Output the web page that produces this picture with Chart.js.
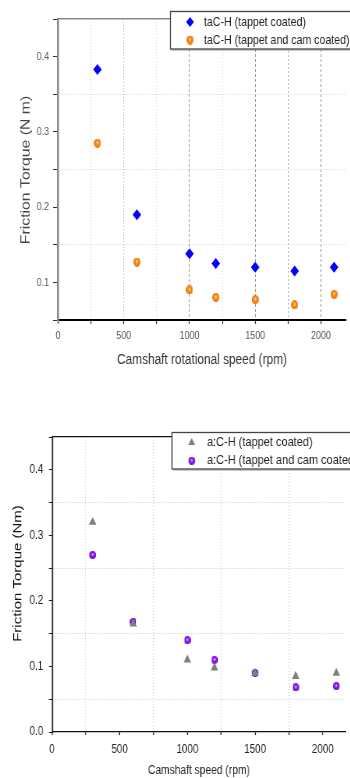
<!DOCTYPE html>
<html><head><meta charset="utf-8">
<script src="https://cdn.jsdelivr.net/npm/chart.js@4.4.1/dist/chart.umd.min.js"></script>
<style>
html,body{margin:0;padding:0;background:#fff;width:350px;height:778px;overflow:hidden;position:relative}
.wrap{position:absolute;left:0;transform-origin:0 0}
#w1{top:0;transform:scaleX(0.78)}
#w2{top:378px;transform:scaleX(0.82)}
canvas{display:block}
</style></head><body>
<div class="wrap" id="w1"><canvas id="c1" width="449" height="378"></canvas></div>
<div class="wrap" id="w2"><canvas id="c2" width="427" height="400"></canvas></div>
<script>
// ---------- data ----------
const speeds = [300, 600, 1000, 1200, 1500, 1800, 2100];
const taCH_tappet    = [0.383, 0.190, 0.138, 0.125, 0.120, 0.115, 0.120];
const taCH_tappetCam = [0.285, 0.127, 0.090, 0.080, 0.077, 0.070, 0.084];
const aCH_tappet     = [0.320, 0.165, 0.110, 0.098, 0.090, 0.085, 0.090];
const aCH_tappetCam  = [0.270, 0.168, 0.140, 0.110, 0.090, 0.068, 0.070];
const seriesLabels1 = ['taC-H (tappet coated)', 'taC-H (tappet and cam coated)'];
const seriesLabels2 = ['a:C-H (tappet coated)', 'a:C-H (tappet and cam coated)'];
const xTicks      = [0, 250, 500, 750, 1000, 1250, 1500, 1750, 2000];
const xTickLabels = ['0', '', '500', '', '1000', '', '1500', '', '2000'];
const yTicks1      = [0.05, 0.10, 0.15, 0.20, 0.25, 0.30, 0.35, 0.40, 0.45];
const yTickLabels1 = ['', '0.1', '', '0.2', '', '0.3', '', '0.4', ''];
const yTicks2      = [0.00, 0.05, 0.10, 0.15, 0.20, 0.25, 0.30, 0.35, 0.40, 0.45];
const yTickLabels2 = ['0.0', '', '0.1', '', '0.2', '', '0.3', '', '0.4', ''];
const xTitle1 = 'Camshaft rotational speed (rpm)';
const yTitle1 = 'Friction Torque (N m)';
const xTitle2 = 'Camshaft speed (rpm)';
const yTitle2 = 'Friction Torque (Nm)';

// ---------- styles ----------
const REG = "'Liberation Sans', Arial, sans-serif";
const T = 'rgba(0,0,0,0)';
const gridColorX1 = [T, '#d2d2d2', '#b4b4b4', '#d2d2d2', '#959595', '#d2d2d2', '#959595', '#aaaaaa', '#959595'];
const gridDashX1  = [[], [1, 2], [1, 2], [1, 2], [3, 2], [1, 2], [3, 2], [2, 2], [3, 2]];
const gridColorY1 = [T, T, '#cfcfcf', T, '#cfcfcf', T, '#cfcfcf', T, T];
const gridColorX2 = [T, '#c8c8c8', T, '#c8c8c8', T, '#c8c8c8', T, '#c8c8c8', T];
const gridColorY2 = [T, '#c8c8c8', T, '#c8c8c8', T, '#c8c8c8', T, '#c8c8c8', T, T];

function sphere(d, light, base, dark) {
  const c = document.createElement('canvas');
  c.width = d; c.height = d;
  const g = c.getContext('2d');
  const gr = g.createRadialGradient(d * 0.5, d * 0.42, 0.3, d * 0.5, d * 0.5, d * 0.55);
  gr.addColorStop(0, light);
  gr.addColorStop(0.35, base);
  gr.addColorStop(1, dark);
  g.fillStyle = gr;
  g.beginPath(); g.arc(d / 2, d / 2, d / 2, 0, Math.PI * 2); g.fill();
  return c;
}
const orangeImg = sphere(9, '#ffe2b8', '#ff8c1a', '#e66d00');
const purpleImg = sphere(8, '#e6ccff', '#8f1df5', '#6a00d0');

// ---------- plugins ----------
const boxLegend = {
  id: 'boxLegend',
  afterDraw(chart, args, o) {
    const ctx = chart.ctx;
    ctx.save();
    ctx.fillStyle = '#fff';
    ctx.fillRect(o.x, o.y, o.w, o.h);
    ctx.strokeStyle = '#9a9a9a'; ctx.lineWidth = 1;
    ctx.beginPath(); ctx.moveTo(o.x + 1, o.y + o.h + 1); ctx.lineTo(o.x + o.w, o.y + o.h + 1); ctx.stroke();
    ctx.strokeStyle = o.border; ctx.lineWidth = o.borderWidth;
    ctx.strokeRect(o.x, o.y, o.w, o.h);
    ctx.font = o.font; ctx.textBaseline = 'middle'; ctx.textAlign = 'left';
    chart.data.datasets.forEach((ds, i) => {
      const y = o.rows[i];
      ctx.beginPath();
      ctx.fillStyle = ds.backgroundColor || '#000';
      ctx.strokeStyle = ds.backgroundColor || '#000';
      Chart.helpers.drawPoint(ctx, {pointStyle: ds.pointStyle, radius: (ds.pointRadius || 4) * 0.9, borderWidth: 0, rotation: 0},
        o.markerX, y);
      ctx.beginPath();
      ctx.fillStyle = o.color;
      ctx.fillText(ds.label, o.textX, y);
    });
    ctx.restore();
  }
};
const yTitlePlugin = {
  id: 'yTitle',
  afterDraw(chart, args, o) {
    const ctx = chart.ctx, ca = chart.chartArea;
    ctx.save();
    ctx.font = o.font; ctx.fillStyle = o.color;
    if ('letterSpacing' in ctx) ctx.letterSpacing = o.spacing || '0px';
    ctx.textAlign = 'center'; ctx.textBaseline = 'middle';
    ctx.translate(o.x, (ca.top + ca.bottom) / 2 + (o.dy || 0));
    ctx.rotate(-Math.PI / 2);
    ctx.fillText(o.text, 0, 0);
    ctx.restore();
  }
};

Chart.defaults.font.family = REG;

function pts(arr) { return speeds.map((s, i) => ({x: s, y: arr[i]})); }

// ---------- chart 1 ----------
new Chart(document.getElementById('c1'), {
  type: 'scatter',
  data: {
    datasets: [
      {label: seriesLabels1[0], data: pts(taCH_tappet), pointStyle: 'rectRot', pointRadius: 5.5,
        backgroundColor: '#0000ff', borderColor: '#0000ff', pointBorderWidth: 0},
      {label: seriesLabels1[1], data: pts(taCH_tappetCam), pointStyle: orangeImg,
        backgroundColor: '#ff8c1a', borderColor: '#ff8c1a'}
    ]
  },
  options: {
    responsive: false, animation: false, devicePixelRatio: 1,
    layout: {padding: {top: 19, left: 0, right: 0, bottom: 0}},
    plugins: {
      legend: {display: false}, tooltip: {enabled: false},
      boxLegend: {x: 218.5, y: 11.5, w: 260, h: 37.5, rows: [22, 40], markerX: 243.6, textX: 261.5,
        font: '13.6px ' + REG, color: '#222', border: '#444', borderWidth: 1.3},
      yTitle: {text: yTitle1, x: 33.3, dy: 0.5, font: '15.8px ' + REG, color: '#444', spacing: '0px'}
    },
    scales: {
      x: {
        type: 'linear', position: 'bottom', min: 0, max: 2190,
        afterBuildTicks: s => { s.ticks = xTicks.map(v => ({value: v})); },
        afterFit: s => { s.height = 58; },
        ticks: {autoSkip: false, maxRotation: 0, padding: 5, color: '#555', font: {size: 11.5}, callback: (v, i) => xTickLabels[i]},
        grid: {color: c => gridColorX1[c.index], tickLength: 4, tickColor: '#333', tickWidth: 1.2},
        border: {color: '#000', width: 2, dash: c => (c.type === 'tick' ? gridDashX1[c.index] : [])},
        title: {display: true, text: xTitle1, color: '#333', font: {size: 15.2}, padding: {top: 0, bottom: 9}}
      },
      xTop: {
        type: 'linear', position: 'top', min: 0, max: 2190,
        afterFit: s => { s.height = 0; },
        ticks: {display: false},
        grid: {drawOnChartArea: false, drawTicks: false},
        border: {color: '#8a8a8a', width: 1.5}
      },
      y: {
        type: 'linear', min: 0.05, max: 0.45,
        afterBuildTicks: s => { s.ticks = yTicks1.map(v => ({value: v})); },
        afterFit: s => { s.width = 74.4; },
        ticks: {autoSkip: false, padding: 5, color: '#555', font: {size: 11.5}, callback: (v, i) => yTickLabels1[i]},
        grid: {color: c => gridColorY1[c.index], tickLength: 6.4, tickColor: '#333', tickWidth: 1},
        border: {color: '#8a8a8a', width: 2.6, dash: c => (c.type === 'tick' ? [1, 2] : [])}
      }
    }
  },
  plugins: [boxLegend, yTitlePlugin]
});

// ---------- chart 2 ----------
new Chart(document.getElementById('c2'), {
  type: 'scatter',
  data: {
    datasets: [
      {label: seriesLabels2[0], data: pts(aCH_tappet), pointStyle: 'triangle', pointRadius: 5.3,
        backgroundColor: '#7f7f7f', borderColor: '#7f7f7f', pointBorderWidth: 0},
      {label: seriesLabels2[1], data: pts(aCH_tappetCam), pointStyle: purpleImg,
        backgroundColor: '#8f1df5', borderColor: '#8f1df5'}
    ]
  },
  options: {
    responsive: false, animation: false, devicePixelRatio: 1,
    layout: {padding: {top: 59, left: 0, right: 0, bottom: 0}},
    plugins: {
      legend: {display: false}, tooltip: {enabled: false},
      boxLegend: {x: 209.8, y: 54.5, w: 260, h: 36.5, rows: [64.7, 82.7], markerX: 233.8, textX: 252.4,
        font: '13.4px ' + REG, color: '#222', border: '#444', borderWidth: 1.3},
      yTitle: {text: yTitle2, x: 22, dy: -11, font: '15px ' + REG, color: '#111', spacing: '0px'}
    },
    scales: {
      x: {
        type: 'linear', position: 'bottom', min: 0, max: 2170,
        afterBuildTicks: s => { s.ticks = xTicks.map(v => ({value: v})); },
        afterFit: s => { s.height = 46; },
        ticks: {autoSkip: false, maxRotation: 0, padding: 7, color: '#222', font: {size: 12}, callback: (v, i) => xTickLabels[i]},
        grid: {color: c => gridColorX2[c.index], tickLength: 3, tickColor: '#111', tickWidth: 1.2},
        border: {color: '#111', width: 1.3, dash: c => (c.type === 'tick' ? [1, 2] : [])},
        title: {display: true, text: xTitle2, color: '#222', font: {size: 12.5}, padding: {top: 0, bottom: 0}}
      },
      xTop: {
        type: 'linear', position: 'top', min: 0, max: 2170,
        afterFit: s => { s.height = 0; },
        ticks: {display: false},
        grid: {drawOnChartArea: false, drawTicks: false},
        border: {color: '#111', width: 1.3}
      },
      y: {
        type: 'linear', min: 0, max: 0.45,
        afterBuildTicks: s => { s.ticks = yTicks2.map(v => ({value: v})); },
        afterFit: s => { s.width = 63.4; },
        ticks: {autoSkip: false, padding: 7, color: '#222', font: {size: 12}, callback: (v, i) => yTickLabels2[i]},
        grid: {color: c => gridColorY2[c.index], tickLength: 3.7, tickColor: '#111', tickWidth: 1},
        border: {color: '#111', width: 1.6, dash: c => (c.type === 'tick' ? [1, 2] : [])}
      }
    }
  },
  plugins: [boxLegend, yTitlePlugin]
});
</script>
</body></html>
